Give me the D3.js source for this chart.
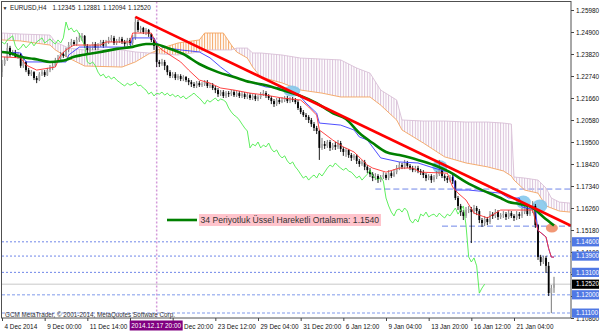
<!DOCTYPE html>
<html>
<head>
<meta charset="utf-8">
<script src="https://cdn.jsdelivr.net/npm/d3@7"></script>
<style>
  body { margin: 0; background: #fff; }
  svg { display: block; font-family: "Liberation Sans", Arial, sans-serif; }
</style>
</head>
<body>
<svg id="chart" width="600" height="333"></svg>
<script>
const symbol = 'EURUSD,H4';

// H4 candles
const opens = [
  1.2293,1.2333,1.2353,1.2412,1.2377,1.2392,1.2368,1.2382,1.2324,1.2343,
  1.2303,1.2283,1.2293,1.2264,1.2254,1.2283,1.2293,1.2278,1.2303,1.2314,
  1.2324,1.2353,1.2363,1.2382,1.2373,1.2402,1.2426,1.2441,1.2431,1.2451,
  1.2461,1.2471,1.2422,1.2402,1.2412,1.2431,1.2412,1.2426,1.2441,1.2422,
  1.2441,1.2451,1.2461,1.2436,1.2446,1.2456,1.2441,1.2431,1.2451,1.2436,
  1.2461,1.2539,1.2500,1.2510,1.2490,1.2500,1.2480,1.2451,1.2422,1.2343,
  1.2333,1.2343,1.2324,1.2293,1.2274,1.2283,1.2264,1.2274,1.2259,1.2269,
  1.2254,1.2244,1.2234,1.2225,1.2239,1.2229,1.2234,1.2244,1.2225,1.2229,
  1.2215,1.2205,1.2185,1.2195,1.2176,1.2190,1.2185,1.2195,1.2180,1.2190,
  1.2176,1.2185,1.2171,1.2180,1.2166,1.2176,1.2161,1.2171,1.2180,1.2190,
  1.2176,1.2166,1.2151,1.2136,1.2156,1.2146,1.2156,1.2166,1.2151,1.2161,
  1.2156,1.2146,1.2117,1.2097,1.2082,1.2073,1.2058,1.2038,1.2019,1.2004,
  1.1921,1.1940,1.1931,1.1950,1.1921,1.1935,1.1926,1.1945,1.1916,1.1901,
  1.1911,1.1886,1.1872,1.1882,1.1857,1.1842,1.1852,1.1828,1.1812,1.1792,
  1.1773,1.1783,1.1763,1.1778,1.1788,1.1773,1.1797,1.1783,1.1802,1.1822,
  1.1837,1.1828,1.1847,1.1833,1.1822,1.1812,1.1822,1.1807,1.1802,1.1788,
  1.1773,1.1783,1.1763,1.1778,1.1792,1.1812,1.1783,1.1773,1.1763,1.1778,
  1.1758,1.1675,1.1636,1.1606,1.1587,1.1616,1.1621,1.1606,1.1626,1.1611,
  1.1567,1.1552,1.1572,1.1557,1.1596,1.1587,1.1606,1.1582,1.1591,1.1596,
  1.1582,1.1601,1.1587,1.1577,1.1596,1.1587,1.1606,1.1626,1.1596,1.1616,
  1.1636,1.1542,1.1386,1.1361,1.1381,1.1342,1.1208,1.12345
];
const highs = [
  1.2353,1.2368,1.2436,1.2422,1.2402,1.2402,1.2392,1.2387,1.2363,1.2348,
  1.2314,1.2303,1.2298,1.2274,1.2293,1.2303,1.2303,1.2314,1.2328,1.2338,
  1.2363,1.2377,1.2392,1.2392,1.2412,1.2441,1.2456,1.2451,1.2466,1.2485,
  1.2485,1.2475,1.2431,1.2426,1.2441,1.2441,1.2436,1.2451,1.2451,1.2451,
  1.2466,1.2475,1.2471,1.2456,1.2466,1.2466,1.2451,1.2461,1.2461,1.2475,
  1.2564,1.2549,1.2520,1.2515,1.2510,1.2505,1.2485,1.2461,1.2426,1.2353,
  1.2358,1.2353,1.2328,1.2303,1.2293,1.2293,1.2283,1.2283,1.2278,1.2274,
  1.2264,1.2254,1.2244,1.2249,1.2249,1.2244,1.2254,1.2254,1.2239,1.2239,
  1.2225,1.2215,1.2205,1.2205,1.2200,1.2200,1.2205,1.2205,1.2200,1.2200,
  1.2195,1.2195,1.2190,1.2190,1.2185,1.2185,1.2180,1.2195,1.2205,1.2200,
  1.2185,1.2176,1.2161,1.2166,1.2166,1.2171,1.2176,1.2176,1.2171,1.2171,
  1.2166,1.2156,1.2127,1.2107,1.2092,1.2082,1.2068,1.2048,1.2029,1.2009,
  1.1970,1.1955,1.1960,1.1960,1.1945,1.1950,1.1960,1.1955,1.1926,1.1921,
  1.1916,1.1896,1.1891,1.1891,1.1867,1.1862,1.1862,1.1837,1.1822,1.1802,
  1.1797,1.1792,1.1788,1.1802,1.1797,1.1812,1.1807,1.1817,1.1837,1.1852,
  1.1847,1.1862,1.1857,1.1842,1.1833,1.1833,1.1833,1.1817,1.1812,1.1797,
  1.1792,1.1792,1.1788,1.1807,1.1862,1.1822,1.1792,1.1783,1.1788,1.1788,
  1.1763,1.1685,1.1646,1.1616,1.1631,1.1636,1.1631,1.1641,1.1636,1.1621,
  1.1577,1.1587,1.1582,1.1611,1.1606,1.1621,1.1616,1.1601,1.1611,1.1606,
  1.1616,1.1611,1.1596,1.1611,1.1606,1.1626,1.1646,1.1636,1.1631,1.1660,
  1.1646,1.1547,1.1396,1.1391,1.1391,1.1361,1.1248,1.12881
];
const lows = [
  1.2269,1.2324,1.2348,1.2368,1.2373,1.2363,1.2358,1.2314,1.2314,1.2293,
  1.2274,1.2274,1.2254,1.2239,1.2249,1.2274,1.2269,1.2274,1.2293,1.2303,
  1.2318,1.2343,1.2353,1.2363,1.2368,1.2392,1.2417,1.2422,1.2422,1.2441,
  1.2446,1.2412,1.2387,1.2392,1.2402,1.2402,1.2402,1.2417,1.2412,1.2417,
  1.2431,1.2441,1.2426,1.2426,1.2436,1.2431,1.2417,1.2422,1.2426,1.2426,
  1.2451,1.2490,1.2485,1.2480,1.2475,1.2466,1.2441,1.2402,1.2318,1.2318,
  1.2324,1.2303,1.2278,1.2264,1.2264,1.2254,1.2254,1.2249,1.2249,1.2244,
  1.2229,1.2220,1.2215,1.2215,1.2220,1.2220,1.2225,1.2215,1.2215,1.2205,
  1.2190,1.2171,1.2176,1.2166,1.2166,1.2171,1.2176,1.2171,1.2171,1.2166,
  1.2166,1.2161,1.2161,1.2156,1.2156,1.2151,1.2151,1.2161,1.2176,1.2166,
  1.2156,1.2136,1.2122,1.2127,1.2136,1.2141,1.2146,1.2141,1.2141,1.2146,
  1.2136,1.2107,1.2087,1.2073,1.2058,1.2043,1.2024,1.2004,1.1989,1.1862,
  1.1911,1.1916,1.1921,1.1906,1.1911,1.1911,1.1916,1.1901,1.1882,1.1877,
  1.1872,1.1857,1.1862,1.1842,1.1828,1.1833,1.1812,1.1797,1.1778,1.1758,
  1.1763,1.1749,1.1753,1.1768,1.1763,1.1763,1.1773,1.1778,1.1792,1.1812,
  1.1817,1.1817,1.1822,1.1812,1.1802,1.1802,1.1797,1.1788,1.1773,1.1758,
  1.1763,1.1749,1.1753,1.1768,1.1783,1.1773,1.1758,1.1749,1.1753,1.1744,
  1.1665,1.1616,1.1587,1.1567,1.1577,1.1601,1.1454,1.1596,1.1591,1.1552,
  1.1533,1.1537,1.1542,1.1547,1.1572,1.1577,1.1567,1.1572,1.1577,1.1567,
  1.1572,1.1577,1.1562,1.1567,1.1572,1.1577,1.1596,1.1587,1.1587,1.1601,
  1.1528,1.1371,1.1342,1.1351,1.1307,1.1194,1.1110,1.12094
];
const closes = [
  1.2333,1.2353,1.2412,1.2377,1.2392,1.2368,1.2382,1.2324,1.2343,1.2303,
  1.2283,1.2293,1.2264,1.2254,1.2283,1.2293,1.2278,1.2303,1.2314,1.2324,
  1.2353,1.2363,1.2382,1.2373,1.2402,1.2426,1.2441,1.2431,1.2451,1.2461,
  1.2471,1.2422,1.2402,1.2412,1.2431,1.2412,1.2426,1.2441,1.2422,1.2441,
  1.2451,1.2461,1.2436,1.2446,1.2456,1.2441,1.2431,1.2451,1.2436,1.2461,
  1.2539,1.2500,1.2510,1.2490,1.2500,1.2480,1.2451,1.2422,1.2343,1.2333,
  1.2343,1.2324,1.2293,1.2274,1.2283,1.2264,1.2274,1.2259,1.2269,1.2254,
  1.2244,1.2234,1.2225,1.2239,1.2229,1.2234,1.2244,1.2225,1.2229,1.2215,
  1.2205,1.2185,1.2195,1.2176,1.2190,1.2185,1.2195,1.2180,1.2190,1.2176,
  1.2185,1.2171,1.2180,1.2166,1.2176,1.2161,1.2171,1.2180,1.2190,1.2176,
  1.2166,1.2151,1.2136,1.2156,1.2146,1.2156,1.2166,1.2151,1.2161,1.2156,
  1.2146,1.2117,1.2097,1.2082,1.2073,1.2058,1.2038,1.2019,1.2004,1.1921,
  1.1940,1.1931,1.1950,1.1921,1.1935,1.1926,1.1945,1.1916,1.1901,1.1911,
  1.1886,1.1872,1.1882,1.1857,1.1842,1.1852,1.1828,1.1812,1.1792,1.1773,
  1.1783,1.1763,1.1778,1.1788,1.1773,1.1797,1.1783,1.1802,1.1822,1.1837,
  1.1828,1.1847,1.1833,1.1822,1.1812,1.1822,1.1807,1.1802,1.1788,1.1773,
  1.1783,1.1763,1.1778,1.1792,1.1812,1.1783,1.1773,1.1763,1.1778,1.1758,
  1.1675,1.1636,1.1606,1.1587,1.1616,1.1621,1.1606,1.1626,1.1611,1.1567,
  1.1552,1.1572,1.1557,1.1596,1.1587,1.1606,1.1582,1.1591,1.1596,1.1582,
  1.1601,1.1587,1.1577,1.1596,1.1587,1.1606,1.1626,1.1596,1.1616,1.1636,
  1.1542,1.1386,1.1361,1.1381,1.1342,1.1208,1.1233,1.12520
];

// time axis: bar index of each label
const timeTickBars = [0, 16, 32, 48, 64, 80, 96, 112, 128, 144, 160, 176, 192];
const timeTickLabels = ['4 Dec 2014', '9 Dec 00:00', '11 Dec 14:00', '16 Dec 04:00', '18 Dec 20:00',
  '23 Dec 12:00', '29 Dec 04:00', '31 Dec 20:00', '6 Jan 12:00', '9 Jan 04:00',
  '13 Jan 20:00', '16 Jan 12:00', '21 Jan 04:00'];
const priceTicks = [1.2598, 1.2490, 1.2382, 1.2274, 1.2166, 1.2058, 1.1950, 1.1842,
  1.1734, 1.1626, 1.1518, 1.1410, 1.1302, 1.1194, 1.1086];

// 34 EMA (read at sample bars)
const emaBars = [0,3,7,12,14,18,22,24,27,30,37,43,49,54,57,62,68,74,81,87,93,99,105,112,118,124,
  129,134,139,144,149,156,162,168,174,180,187,190,194,199,203,207];
const emaValues = [1.2392,1.2387,1.2368,1.2358,1.2353,1.2343,1.2348,1.2353,1.2368,1.2377,1.2392,
  1.2407,1.2417,1.2431,1.2431,1.2412,1.2382,1.2333,1.2293,1.2269,1.2244,1.2229,1.2205,1.2176,
  1.2141,1.2092,1.2063,1.1994,1.1945,1.1901,1.1886,1.1862,1.1837,1.1802,1.1753,1.1714,1.1675,
  1.1655,1.1646,1.1626,1.1582,1.1540];

// Ichimoku
const tenkanBars = [0,7,9,13,20,22,24,27,37,39,48,49,56,58,60,63,67,70,74,78,82,87,93,99,105,112,
  115,118,119,124,128,132,137,139,144,149,154,157,167,169,171,174,177,182,187,193,199,201,204,205,206,207];
const tenkanValues = [1.2368,1.2363,1.2328,1.2303,1.2318,1.2377,1.2402,1.2426,1.2426,1.2441,1.2441,
  1.2485,1.2485,1.2426,1.2402,1.2377,1.2343,1.2303,1.2254,1.2239,1.2215,1.2205,1.2190,1.2180,
  1.2166,1.2156,1.2122,1.2082,1.2009,1.1960,1.1926,1.1901,1.1837,1.1822,1.1802,1.1822,1.1822,
  1.1802,1.1797,1.1729,1.1699,1.1665,1.1601,1.1577,1.1616,1.1616,1.1616,1.1516,1.1484,1.1427,
  1.1385,1.1385];
const kijunBars = [0,7,9,24,25,29,48,49,57,58,60,67,74,78,82,87,93,99,105,112,114,118,119,127,132,
  134,137,142,149,156,162,169,170,175,187,190,194,195,200,201,204,205,206,207];
const kijunValues = [1.2392,1.2387,1.2343,1.2343,1.2377,1.2416,1.2416,1.2461,1.2461,1.2436,1.2416,
  1.2402,1.2392,1.2363,1.2318,1.2269,1.2244,1.2220,1.2215,1.2171,1.2141,1.2092,1.2043,1.2033,
  1.2009,1.1975,1.1960,1.1872,1.1852,1.1847,1.1822,1.1797,1.1714,1.1714,1.1699,1.1675,1.1675,
  1.1631,1.1616,1.1516,1.1484,1.1427,1.1385,1.1385];
const chikouShift = 26;
const cloudBars = [0,7,18,20,25,31,45,50,55,60,66,74,76,83,86,88,92,94,97,105,112,120,127,133,138,
  142,148,150,158,166,174,182,188,191,192,196,201,204,206,209,213];
const spanA = [1.2451,1.2446,1.2426,1.2402,1.2362,1.2323,1.2318,1.2343,1.2382,1.2411,1.2436,1.2451,
  1.2485,1.2485,1.2426,1.2392,1.2362,1.2318,1.2269,1.2240,1.2205,1.2190,1.2171,1.2171,1.2171,
  1.2131,1.2058,1.2009,1.1945,1.1877,1.1847,1.1828,1.1808,1.1783,1.1763,1.1714,1.1699,1.1636,
  1.1626,1.1611,1.1606];
const spanB = [1.2485,1.2480,1.2475,1.2441,1.2411,1.2402,1.2402,1.2392,1.2387,1.2382,1.2377,1.2392,
  1.2402,1.2402,1.2402,1.2411,1.2411,1.2387,1.2387,1.2377,1.2362,1.2357,1.2353,1.2313,1.2288,
  1.2205,1.2156,1.2058,1.2053,1.2053,1.2048,1.2048,1.2043,1.2038,1.1778,1.1773,1.1763,1.1724,
  1.1675,1.1655,1.1650];

// drawn objects
const trendBars = [50, 200];
const trendPrices = [1.2564, 1.1623];
const dottedLevels = [1.146, 1.139, 1.131];
const lightLevels = [1.12, 1.111];
const dashedLevels = [1.1719, 1.1537];
const dashedFromBars = [140, 165];
const touchBars = [108.7, 164.2, 195.5, 201.7];
const touchPrices = [1.2200, 1.1828, 1.1655, 1.1636];
const breakBar = 206.2, breakPrice = 1.1528;
const separatorBar = 58;
const separatorLabel = '2014.12.17 20:00';

const width = 600, height = 333;
const plot = { left: 2, right: 571, top: 1.5, bottom: 318 };
const f5 = d3.format('.5f');
const last = closes.length - 1;

const x = d3.scaleLinear().domain([0, 213.375]).range([plot.left, plot.right]);
const y = d3.scaleLinear().domain([1.1086, 1.2598]).range([318, 10]);

const svg = d3.select('#chart');
const defs = svg.append('defs');

defs.append('clipPath').attr('id', 'plotClip')
  .append('rect')
  .attr('x', plot.left).attr('y', plot.top)
  .attr('width', plot.right - plot.left).attr('height', plot.bottom - plot.top);

function hatch(id, color) {
  const p = defs.append('pattern')
    .attr('id', id)
    .attr('patternUnits', 'userSpaceOnUse')
    .attr('x', x(0) - 0.5)
    .attr('width', x(1) - x(0))
    .attr('height', 8);
  p.append('line')
    .attr('x1', 0.5).attr('x2', 0.5).attr('y1', 0).attr('y2', 8)
    .attr('stroke', color).attr('stroke-width', 1);
}
hatch('hatchUp', '#f4a460');
hatch('hatchDown', '#d8bfd8');

// cloud is split by span B: above it -> span A leads (up kumo), below -> down kumo
defs.append('clipPath').attr('id', 'aboveB')
  .append('path')
  .attr('d', d3.area().x((d, k) => x(cloudBars[k])).y0(0).y1(d => y(d))(spanB));
defs.append('clipPath').attr('id', 'belowB')
  .append('path')
  .attr('d', d3.area().x((d, k) => x(cloudBars[k])).y0(d => y(d)).y1(height)(spanB));

const chart = svg.append('g').attr('clip-path', 'url(#plotClip)');

// horizontal levels
chart.selectAll('.lvl')
  .data(dottedLevels)
  .join('line')
  .attr('x1', plot.left).attr('x2', plot.right)
  .attr('y1', d => y(d)).attr('y2', d => y(d))
  .attr('stroke', '#6f86e8').attr('stroke-width', 1).attr('stroke-dasharray', '2,2');
chart.selectAll('.lvlLight')
  .data(lightLevels)
  .join('line')
  .attr('x1', plot.left).attr('x2', plot.right)
  .attr('y1', d => y(d)).attr('y2', d => y(d))
  .attr('stroke', '#aabcf2').attr('stroke-width', 1.5).attr('stroke-dasharray', '3,2');
chart.append('line')
  .attr('x1', plot.left).attr('x2', plot.right)
  .attr('y1', y(closes[last])).attr('y2', y(closes[last]))
  .attr('stroke', '#c8c8c8').attr('stroke-width', 1);
chart.selectAll('.lvlDash')
  .data(dashedLevels)
  .join('line')
  .attr('x1', (d, i) => x(dashedFromBars[i])).attr('x2', plot.right)
  .attr('y1', d => y(d)).attr('y2', d => y(d))
  .attr('stroke', '#6f86e8').attr('stroke-width', 1).attr('stroke-dasharray', '6,3');

// period separator
chart.append('line')
  .attr('x1', x(separatorBar)).attr('x2', x(separatorBar))
  .attr('y1', plot.top).attr('y2', plot.bottom)
  .attr('stroke', '#d39ad9').attr('stroke-width', 1.5).attr('stroke-dasharray', '2,2');

// kumo
const kumo = d3.area()
  .x((d, k) => x(cloudBars[k]))
  .y0(d => y(d))
  .y1((d, k) => y(spanB[k]));
chart.append('path').attr('d', kumo(spanA))
  .attr('fill', 'url(#hatchUp)').attr('clip-path', 'url(#aboveB)');
chart.append('path').attr('d', kumo(spanA))
  .attr('fill', 'url(#hatchDown)').attr('clip-path', 'url(#belowB)');

const sampled = bars => d3.line().x((d, k) => x(bars[k])).y(d => y(d));
chart.append('path').attr('d', sampled(cloudBars)(spanA))
  .attr('fill', 'none').attr('stroke', '#f4a460').attr('stroke-width', 0.9);
chart.append('path').attr('d', sampled(cloudBars)(spanB))
  .attr('fill', 'none').attr('stroke', '#d8bfd8').attr('stroke-width', 0.9);

// touch markers
chart.selectAll('.touch')
  .data(touchBars)
  .join('ellipse')
  .attr('cx', d => x(d)).attr('cy', (d, i) => y(touchPrices[i]))
  .attr('rx', (d, i) => i == 0 ? 8.5 : 7.5).attr('ry', (d, i) => i == 0 ? 5.5 : 6.5)
  .attr('fill', '#84c8ec').attr('opacity', 0.9);
chart.append('ellipse')
  .attr('cx', x(breakBar)).attr('cy', y(breakPrice))
  .attr('rx', 6).attr('ry', 4.5)
  .attr('fill', '#f08c66').attr('opacity', 0.9);

// candles
const bars = d3.range(closes.length);
chart.selectAll('.wick')
  .data(bars)
  .join('line')
  .attr('x1', i => x(i)).attr('x2', i => x(i))
  .attr('y1', i => y(highs[i])).attr('y2', i => y(lows[i]))
  .attr('stroke', i => closes[i] >= opens[i] ? '#6a6a6a' : '#000')
  .attr('stroke-width', 0.9);
chart.selectAll('.body')
  .data(bars)
  .join('rect')
  .attr('x', i => x(i) - 0.9)
  .attr('width', 1.8)
  .attr('y', i => y(Math.max(opens[i], closes[i])))
  .attr('height', i => Math.max(0.8, Math.abs(y(opens[i]) - y(closes[i]))))
  .attr('fill', i => closes[i] >= opens[i] ? '#a4a4a4' : '#000');

// ichimoku lines
chart.append('path')
  .attr('d', d3.line().x((d, i) => x(i)).y(d => y(d))(closes.slice(chikouShift)))
  .attr('fill', 'none').attr('stroke', '#4cec4c').attr('stroke-width', 0.9);
chart.append('path').attr('d', sampled(kijunBars)(kijunValues))
  .attr('fill', 'none').attr('stroke', '#3b3bff').attr('stroke-width', 0.9);
chart.append('path').attr('d', sampled(tenkanBars)(tenkanValues))
  .attr('fill', 'none').attr('stroke', '#ff3030').attr('stroke-width', 0.9);

// EMA 34
chart.append('path')
  .attr('d', d3.line().curve(d3.curveMonotoneX).x((d, k) => x(emaBars[k])).y(d => y(d))(emaValues))
  .attr('fill', 'none').attr('stroke', '#008000').attr('stroke-width', 2.6);

// trend line, extended to the right edge
const slope = (trendPrices[1] - trendPrices[0]) / (trendBars[1] - trendBars[0]);
const endBar = x.domain()[1];
chart.append('line')
  .attr('x1', x(trendBars[0])).attr('y1', y(trendPrices[0]))
  .attr('x2', x(endBar)).attr('y2', y(trendPrices[0] + slope * (endBar - trendBars[0])))
  .attr('stroke', '#ff0000').attr('stroke-width', 2.6);

// frame
svg.append('rect')
  .attr('x', 1.5).attr('y', 1.5)
  .attr('width', plot.right - 1.5).attr('height', plot.bottom - 1.5)
  .attr('fill', 'none').attr('stroke', '#505050').attr('stroke-width', 1);

// price axis; labels that sit fully under a level tag are not drawn, as in the terminal
const tagPrices = dottedLevels.concat(lightLevels, [closes[last]]);
const underTag = p => tagPrices.some(t => Math.abs(y(t) - y(p)) < 3);
svg.append('g')
  .attr('transform', 'translate(' + plot.right + ',0)')
  .call(d3.axisRight(y).tickValues(priceTicks).tickSize(3).tickSizeOuter(0)
    .tickFormat(d => underTag(d) ? '' : f5(d)))
  .call(g => g.select('.domain').remove())
  .call(g => g.selectAll('line').attr('stroke', '#444'))
  .call(g => g.selectAll('text').attr('x', 5).attr('fill', '#111'))
  .attr('font-family', '"Liberation Sans", Arial, sans-serif')
  .attr('font-size', 6.4);

// level tags on the price axis
const tags = svg.append('g')
  .attr('font-size', 6.4);
function tag(price, fill) {
  tags.append('rect')
    .attr('x', plot.right + 1).attr('y', y(price) - 4.6)
    .attr('width', 27).attr('height', 9.2)
    .attr('fill', fill);
  tags.append('text')
    .attr('x', plot.right + 5).attr('y', y(price))
    .attr('dy', '0.34em')
    .attr('fill', '#fff')
    .text(f5(price));
}
dottedLevels.concat(lightLevels).forEach(p => tag(p, '#5078e4'));
tag(closes[last], '#000');

// time axis; the label under the separator tag is hidden
const sepLeft = x(separatorBar) - 27, sepRight = x(separatorBar) + 26;
svg.append('g')
  .attr('transform', 'translate(0,' + plot.bottom + ')')
  .call(d3.axisBottom(x).tickValues(timeTickBars).tickSize(3).tickSizeOuter(0)
    .tickFormat((d, i) => (x(d) >= sepLeft && x(d) + 40 <= sepRight) ? '' : timeTickLabels[i]))
  .call(g => g.select('.domain').remove())
  .call(g => g.selectAll('line').attr('stroke', '#444'))
  .call(g => g.selectAll('text').attr('text-anchor', 'start').attr('x', 2).attr('y', 6).attr('fill', '#111'))
  .attr('font-family', '"Liberation Sans", Arial, sans-serif')
  .attr('font-size', 6.4);

// separator label
svg.append('rect')
  .attr('x', sepLeft).attr('y', 320.5)
  .attr('width', sepRight - sepLeft).attr('height', 10)
  .attr('fill', '#800080');
svg.append('text')
  .attr('x', x(separatorBar) - 0.5).attr('y', 328.2)
  .attr('text-anchor', 'middle')
  .attr('font-size', 6.4).attr('fill', '#fff')
  .text(separatorLabel);

// title
const title = svg.append('text')
  .attr('y', 10).attr('font-size', 6.3).attr('fill', '#222');
title.append('tspan').attr('x', 2.5).attr('font-size', 5).text('▼');
title.append('tspan').attr('x', 10).text(symbol);
[opens[last], highs[last], lows[last], closes[last]].forEach((v, i) => {
  title.append('tspan').attr('x', 52.5 + i * 25.2).text(f5(v));
});

// legend
svg.append('line')
  .attr('x1', 167).attr('x2', 197).attr('y1', 220).attr('y2', 220)
  .attr('stroke', '#008000').attr('stroke-width', 2.6);
svg.append('rect')
  .attr('x', 199).attr('y', 214)
  .attr('width', 182).attr('height', 12)
  .attr('fill', '#ffc4cc');
svg.append('text')
  .attr('x', 200.5).attr('y', 223.3)
  .attr('font-size', 8.6).attr('fill', '#333')
  .text('34 Periyotluk Üssel Hareketli Ortalama: ' + d3.format('.4f')(emaValues[emaValues.length - 1]));

// copyright
svg.append('text')
  .attr('x', 5).attr('y', 317)
  .attr('font-size', 6.3).attr('fill', '#333')
  .text('GCM MetaTrader, © 2001-2014, MetaQuotes Software Corp.');
</script>
</body>
</html>
